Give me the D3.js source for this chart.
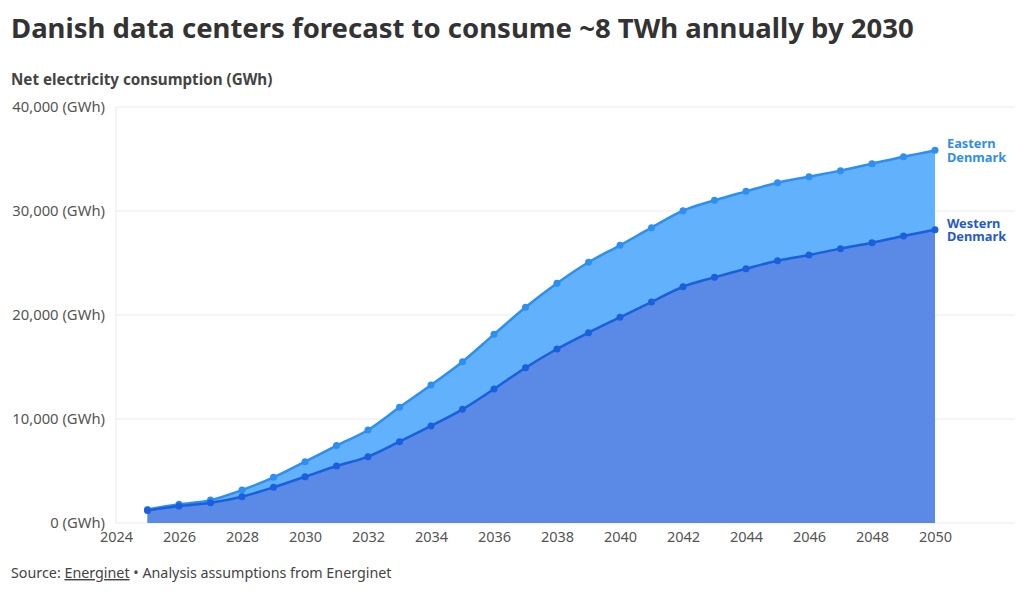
<!DOCTYPE html>
<html>
<head>
<meta charset="utf-8">
<script src="https://cdn.jsdelivr.net/npm/d3@7"></script>
<style>
  body { margin: 0; background: #fff; font-family: "Noto Sans", "Open Sans", sans-serif; }
  svg text { font-family: "Noto Sans", "Open Sans", sans-serif; }
</style>
</head>
<body>
<svg id="chart" width="1020" height="593"></svg>
<script>
// --- data ---
const years = d3.range(2025, 2051);
const eastern = [1300, 1800, 2200, 3170, 4390, 5900, 7440, 8940, 11120, 13270,
                 15510, 18140, 20740, 23050, 25070, 26700, 28400, 30030, 31030, 31890,
                 32720, 33300, 33880, 34550, 35220, 35830];
const western = [1200, 1630, 1950, 2530, 3430, 4450, 5480, 6380, 7820, 9330,
                 10930, 12880, 14930, 16730, 18300, 19780, 21250, 22720, 23620, 24450,
                 25220, 25770, 26380, 26950, 27600, 28200];
const yTicks = [0, 10000, 20000, 30000, 40000];
const xTicks = d3.range(2024, 2051, 2);

const series = [
  { name: ["Eastern", "Denmark"], values: eastern, fill: "#61b1fc", stroke: "#2d8ff0", label: "#2f8fe6" },
  { name: ["Western", "Denmark"], values: western, fill: "#5a8ae6", stroke: "#1a5fdc", label: "#1f5cc8" }
];

// --- layout ---
const svg = d3.select("#chart");
const plot = { left: 116, right: 935, top: 107, bottom: 523 };

const x = d3.scaleLinear().domain([2024, 2050]).range([plot.left, plot.right]);
const y = d3.scaleLinear().domain([0, 40000]).range([plot.bottom, plot.top]);

// title + subtitle
svg.append("text").attr("x", 11).attr("y", 38)
  .attr("font-size", 27.5).attr("font-weight", 700).attr("fill", "#333")
  .text("Danish data centers forecast to consume ~8 TWh annually by 2030");
svg.append("text").attr("x", 11).attr("y", 85)
  .attr("font-size", 15.2).attr("font-weight", 700).attr("fill", "#444")
  .text("Net electricity consumption (GWh)");

// grid
svg.append("g").selectAll("line").data(yTicks).join("line")
  .attr("x1", plot.left).attr("x2", 1015)
  .attr("y1", d => y(d)).attr("y2", d => y(d))
  .attr("stroke", "#ebebeb").attr("stroke-width", 1);
svg.append("line")
  .attr("x1", plot.left).attr("x2", plot.left)
  .attr("y1", plot.top).attr("y2", plot.bottom)
  .attr("stroke", "#ebebeb");

// y labels
svg.append("g").selectAll("text").data(yTicks).join("text")
  .attr("x", 105).attr("y", d => y(d) + 5)
  .attr("text-anchor", "end").attr("font-size", 14.8).attr("fill", "#555")
  .text(d => d3.format(",")(d) + " (GWh)");

// x axis
const xAxis = svg.append("g")
  .attr("transform", `translate(0,${plot.bottom})`)
  .call(d3.axisBottom(x).tickValues(xTicks).tickFormat(d3.format("d")).tickSize(0).tickPadding(9));
xAxis.select(".domain").remove();
xAxis.selectAll("text").attr("font-size", 14.5).attr("fill", "#555");

// areas + lines
const area = d3.area().x((d, i) => x(years[i])).y0(y(0)).y1(d => y(d)).curve(d3.curveMonotoneX);
const line = d3.line().x((d, i) => x(years[i])).y(d => y(d)).curve(d3.curveMonotoneX);

series.forEach(s => {
  svg.append("path").datum(s.values).attr("d", area).attr("fill", s.fill);
});
series.forEach(s => {
  svg.append("path").datum(s.values).attr("d", line)
    .attr("fill", "none").attr("stroke", s.stroke).attr("stroke-width", 2.5);
  svg.append("g").selectAll("circle").data(s.values).join("circle")
    .attr("cx", (d, i) => x(years[i])).attr("cy", d => y(d))
    .attr("r", 3.5).attr("fill", s.stroke);
  const last = s.values[s.values.length - 1];
  s.name.forEach((n, k) => {
    svg.append("text").attr("x", x(2050) + 12).attr("y", y(last) - 2 + k * 13.5)
      .attr("font-size", 12.8).attr("font-weight", 700).attr("fill", s.label)
      .text(n);
  });
});

// source
const src = svg.append("text").attr("x", 11).attr("y", 578)
  .attr("font-size", 14.3).attr("fill", "#444");
src.append("tspan").text("Source: ");
src.append("tspan").attr("text-decoration", "underline").text("Energinet");
src.append("tspan").text(" \u2022 Analysis assumptions from Energinet");
</script>
</body>
</html>
